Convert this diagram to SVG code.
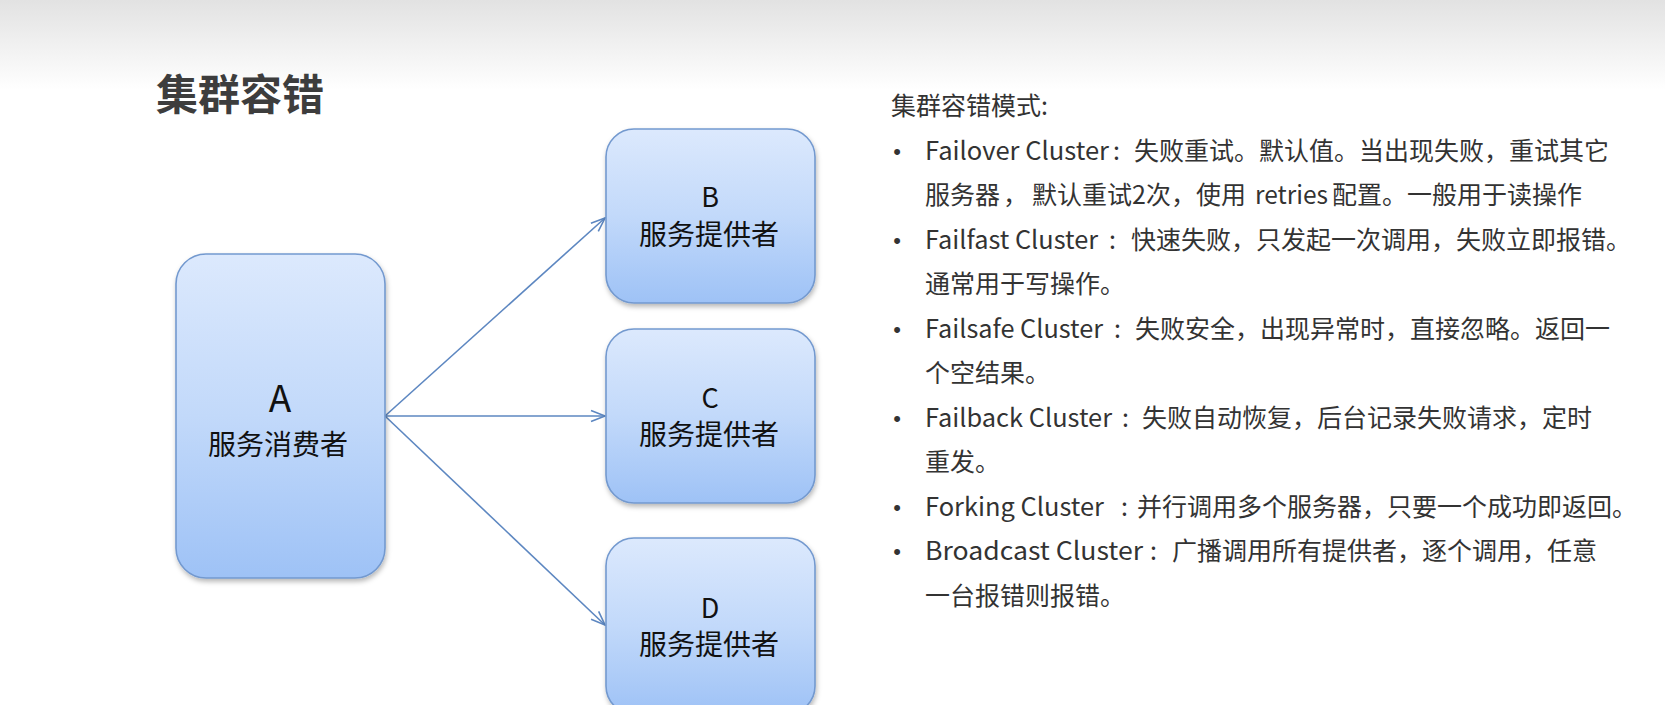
<svg xmlns="http://www.w3.org/2000/svg" width="1665" height="705" viewBox="0 0 1665 705">
<style>
.box{fill:url(#boxGrad);stroke:#7399cf;stroke-width:1.6;filter:url(#shadow)}
.lt{font-family:"Noto Sans CJK SC","Noto Sans",sans-serif;fill:#111;text-anchor:middle}
.t{font-family:"Noto Sans CJK SC","Noto Sans",sans-serif;font-size:25px;fill:#333}
.b{font-family:"Liberation Sans",sans-serif;font-size:22px;fill:#333;text-anchor:middle}
.conn{stroke:#5d87c1;stroke-width:1.6;fill:none;marker-end:url(#arr)}
</style>
<defs>
<linearGradient id="bg" x1="0" y1="0" x2="0" y2="1">
<stop offset="0" stop-color="#e2e2e2"/>
<stop offset="1" stop-color="#ffffff"/>
</linearGradient>
<linearGradient id="boxGrad" x1="0" y1="0" x2="0" y2="1">
<stop offset="0" stop-color="#dce9fd"/>
<stop offset="0.5" stop-color="#c2d9fa"/>
<stop offset="1" stop-color="#9ec2f6"/>
</linearGradient>
<filter id="shadow" x="-10%" y="-10%" width="130%" height="130%">
<feDropShadow dx="1" dy="3" stdDeviation="2.5" flood-color="#000" flood-opacity="0.28"/>
</filter>
<marker id="arr" markerUnits="userSpaceOnUse" markerWidth="20" markerHeight="16" viewBox="-16 -8 18 16" refX="0" refY="0" orient="auto">
<path d="M-14,-5.5 L0,0 L-14,5.5" fill="none" stroke="#5d87c1" stroke-width="1.6"/>
</marker>
</defs>
<rect x="0" y="0" width="1665" height="705" fill="#ffffff"/>
<rect x="0" y="0" width="1665" height="90" fill="url(#bg)"/>
<text x="156" y="110" font-family="'Noto Sans CJK SC',sans-serif" font-size="42" font-weight="bold" fill="#3d3d3d">集群容错</text>
<g id="connectors">
<line class="conn" x1="385" y1="416" x2="605" y2="218"/>
<line class="conn" x1="385" y1="416" x2="605" y2="416"/>
<line class="conn" x1="385" y1="416" x2="605" y2="625"/>
</g>
<g id="nodeA">
<rect class="box" x="176" y="254" width="209" height="324" rx="30" ry="30"/>
<text class="lt" x="280" y="412" font-size="37">A</text>
<text class="lt" x="278" y="455" font-size="28">服务消费者</text>
</g>
<g id="nodeB">
<rect class="box" x="606" y="129" width="209" height="174" rx="28" ry="28"/>
<text class="lt" x="710" y="207" font-size="27">B</text>
<text class="lt" x="709" y="245" font-size="28">服务提供者</text>
</g>
<g id="nodeC">
<rect class="box" x="606" y="329" width="209" height="174" rx="28" ry="28"/>
<text class="lt" x="710" y="408" font-size="27">C</text>
<text class="lt" x="709" y="445" font-size="28">服务提供者</text>
</g>
<g id="nodeD">
<rect class="box" x="606" y="538" width="209" height="176" rx="28" ry="28"/>
<text class="lt" x="710" y="618" font-size="27">D</text>
<text class="lt" x="709" y="655" font-size="28">服务提供者</text>
</g>
<g id="modes">
<text class="t" x="891" y="115">集群容错模式:</text>
<text class="b" x="897" y="159">•</text>
<text class="t" y="160"><tspan x="925" textLength="184" lengthAdjust="spacingAndGlyphs">Failover Cluster</tspan><tspan x="1113">:</tspan><tspan x="1134">失败重试。默认值。当出现失败，重试其它</tspan></text>
<text class="t" y="204"><tspan x="925">服务器</tspan><tspan x="1003">，</tspan><tspan x="1032">默认重试2次，使用 </tspan><tspan x="1255" textLength="73" lengthAdjust="spacingAndGlyphs">retries</tspan><tspan x="1332">配置。一般用于读操作</tspan></text>
<text class="b" x="897" y="248">•</text>
<text class="t" y="249"><tspan x="925" textLength="173" lengthAdjust="spacingAndGlyphs">Failfast Cluster</tspan><tspan x="1109">:</tspan><tspan x="1131">快速失败，只发起一次调用，失败立即报错。</tspan></text>
<text class="t" x="925" y="293">通常用于写操作。</text>
<text class="b" x="897" y="337">•</text>
<text class="t" y="338"><tspan x="925" textLength="178" lengthAdjust="spacingAndGlyphs">Failsafe Cluster</tspan><tspan x="1114">:</tspan><tspan x="1135">失败安全，出现异常时，直接忽略。返回一</tspan></text>
<text class="t" x="925" y="382">个空结果。</text>
<text class="b" x="897" y="426">•</text>
<text class="t" y="427"><tspan x="925" textLength="187" lengthAdjust="spacingAndGlyphs">Failback Cluster</tspan><tspan x="1122">:</tspan><tspan x="1142">失败自动恢复，后台记录失败请求，定时</tspan></text>
<text class="t" x="925" y="471">重发。</text>
<text class="b" x="897" y="515">•</text>
<text class="t" y="516"><tspan x="925" textLength="179" lengthAdjust="spacingAndGlyphs">Forking Cluster</tspan><tspan x="1121">:</tspan><tspan x="1137">并行调用多个服务器，只要一个成功即返回。</tspan></text>
<text class="b" x="897" y="559">•</text>
<text class="t" y="560"><tspan x="925" textLength="218" lengthAdjust="spacingAndGlyphs">Broadcast  Cluster</tspan><tspan x="1150">:</tspan><tspan x="1172">广播调用所有提供者，逐个调用，任意</tspan></text>
<text class="t" x="925" y="605">一台报错则报错。</text>
</g>
</svg>
